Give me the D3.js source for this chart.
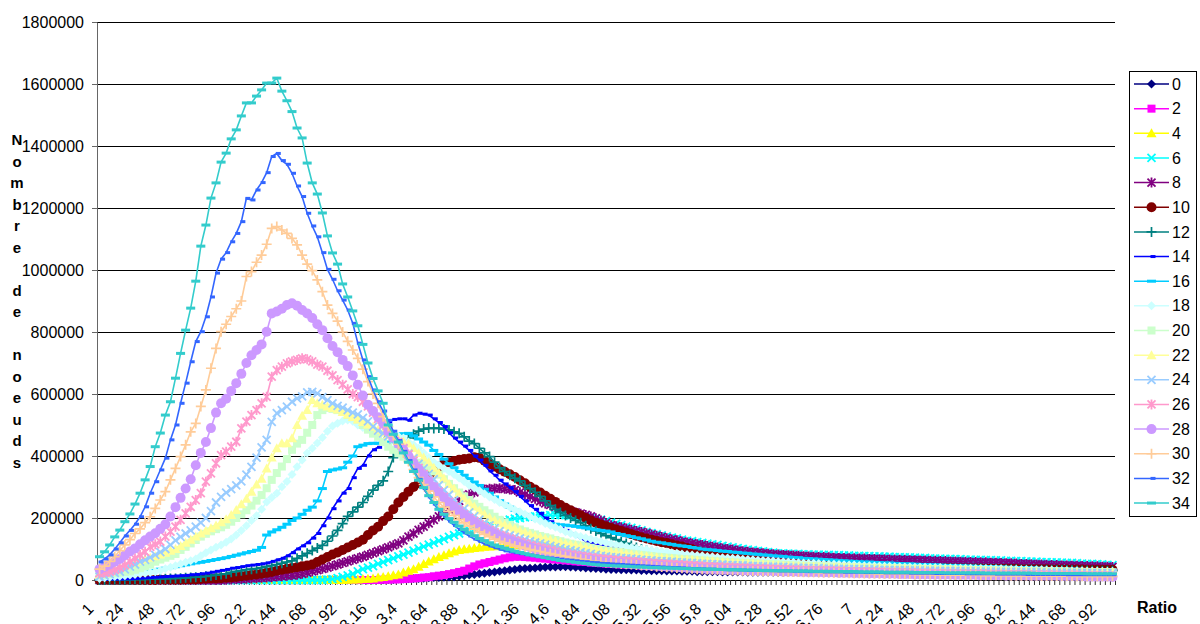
<!DOCTYPE html>
<html>
<head>
<meta charset="utf-8">
<script src="https://d3js.org/d3.v7.min.js"></script>
<style>
  body { margin: 0; background: #fff; }
  svg { display: block; font-family: "Liberation Sans", Arial, sans-serif; }
</style>
</head>
<body>
<script>
// values in thousands of noeuds, one per ratio category (1 ; 1,04 ; ... ; 9), 10 per row
var s0 = [0,0,0,0,0,0,0,0,0,0,
 0,0,0,0,0,0,0,0,0,0,
 0,0,0,0,0,0,0,0,0,0,
 0,0,0,0,0,0,0,0,0,0,
 0,0,0,0,0,0,0,0,0,0,
 0,0,0,0,0,1,1,2,2,3,
 3,4,5,5,6,7,8,8,9,10,
 10,12,14,16,18,20,22,24,26,28,
 30,32,34,36,37,38,39,40,41,42,
 42,43,43,42,41,40,39,38,37,36,
 35,34,34,33,33,32,32,31,31,30,
 30,30,29,29,29,28,28,28,27,27,
 27,27,27,26,26,26,26,26,25,25,
 25,25,25,25,24,24,24,24,24,24,
 24,24,23,23,23,23,23,23,23,23,
 22,22,22,22,22,22,22,22,22,22,
 21,21,21,21,21,21,21,21,21,20,
 20,20,20,20,20,20,20,20,20,20,
 19,19,19,19,19,19,19,19,19,19,
 18,18,18,18,18,18,18,18,18,18,
 18];
var s2 = [0,0,0,0,0,0,0,0,0,0,
 0,0,0,0,0,0,0,0,0,0,
 0,0,0,0,0,0,0,0,0,0,
 0,0,0,0,0,0,0,0,0,0,
 0,0,0,0,0,0,0,0,0,0,
 0,0,0,0,0,0,1,1,2,2,
 3,4,5,6,8,9,12,14,16,19,
 22,26,30,37,44,50,54,58,62,66,
 70,73,75,75,74,73,72,70,69,67,
 66,65,63,62,60,59,58,56,55,54,
 53,52,51,50,50,49,48,47,46,45,
 45,44,44,43,43,42,42,41,41,40,
 40,40,39,39,39,38,38,38,37,37,
 37,36,36,36,36,35,35,35,35,34,
 34,34,34,34,33,33,33,33,33,32,
 32,32,32,32,31,31,31,31,31,30,
 30,30,30,30,29,29,29,29,29,29,
 28,28,28,28,28,28,27,27,27,27,
 27,27,26,26,26,26,26,26,25,25,
 25,25,25,25,25,25,24,24,24,24,
 24];
var s4 = [0,0,0,0,0,0,0,0,0,0,
 0,0,0,0,0,0,0,0,0,0,
 0,0,0,0,0,0,0,0,0,0,
 0,0,0,0,0,0,0,0,0,0,
 0,0,0,0,0,0,0,0,0,1,
 2,2,3,4,5,8,10,12,15,18,
 24,30,35,43,52,60,67,74,80,86,
 92,97,99,101,103,105,107,108,109,110,
 111,112,112,113,113,113,114,114,114,114,
 113,113,113,112,111,110,109,108,107,105,
 104,103,101,100,98,97,96,95,94,92,
 91,90,89,88,86,85,84,83,82,80,
 79,78,77,76,75,74,72,71,70,69,
 68,67,66,65,64,63,62,61,60,60,
 59,58,58,57,56,56,55,54,54,53,
 53,52,52,51,51,50,50,49,49,48,
 48,47,47,47,46,46,45,45,45,44,
 44,44,43,43,43,42,42,42,41,41,
 40,40,40,39,39,39,38,38,38,37,
 37,37,37,36,36,36,36,35,35,35,
 35];
var s6 = [0,0,0,0,0,0,0,0,0,0,
 0,0,0,0,0,0,0,0,0,0,
 0,0,0,0,0,0,0,0,0,0,
 0,0,0,0,0,0,0,0,0,0,
 0,0,0,0,0,1,3,6,10,15,
 20,28,35,40,45,52,58,64,70,76,
 82,88,95,101,108,114,120,126,132,139,
 145,150,156,161,165,170,175,180,185,188,
 192,195,198,200,202,204,205,207,208,209,
 209,210,209,208,206,204,203,201,199,195,
 190,185,181,177,172,168,164,160,155,151,
 148,144,141,137,134,130,127,125,122,120,
 117,115,113,110,108,105,103,100,98,96,
 94,92,90,88,86,86,85,84,84,83,
 83,82,82,81,81,80,80,79,79,78,
 78,77,77,76,76,75,75,74,74,73,
 73,72,71,71,70,69,69,68,68,67,
 67,66,66,65,65,64,64,63,63,62,
 62,61,61,60,59,59,58,58,57,57,
 56,55,55,54,53,52,52,51,50,49,
 48];
var s8 = [0,0,0,0,0,0,0,0,0,0,
 0,0,0,0,0,0,0,0,0,0,
 0,0,0,0,0,1,2,3,3,4,
 5,6,7,8,9,11,12,14,15,17,
 20,24,28,32,36,40,45,50,55,60,
 65,70,75,81,87,93,99,105,112,118,
 128,140,150,162,172,183,194,205,216,226,
 240,255,269,276,283,290,292,294,295,296,
 294,292,290,283,276,269,262,254,247,242,
 236,231,226,222,218,214,210,205,199,192,
 184,177,173,170,166,162,158,155,151,147,
 143,139,135,131,128,124,121,118,115,113,
 110,107,105,102,100,98,95,93,91,89,
 88,86,85,83,82,81,80,79,78,77,
 76,75,74,74,73,72,71,71,70,70,
 69,69,68,68,67,67,66,66,65,65,
 64,64,63,63,62,62,61,61,60,60,
 59,59,58,58,57,57,56,56,55,54,
 54,53,52,52,51,50,50,49,48,48,
 47,47,46,46,45,45,44,44,43,43,
 42];
var s10 = [0,0,0,0,0,0,0,0,0,0,
 0,0,1,1,1,1,1,2,2,2,
 3,4,5,5,6,7,8,10,12,14,
 16,18,20,23,26,30,33,36,39,41,
 44,47,50,58,66,74,82,89,97,105,
 113,121,130,145,160,172,190,205,228,250,
 268,285,300,313,326,337,350,365,376,380,
 384,388,390,392,396,394,385,374,366,357,
 349,341,332,322,312,301,292,282,272,262,
 252,242,233,225,217,209,200,192,185,179,
 173,168,163,158,153,148,143,138,134,130,
 126,122,119,115,111,108,103,99,94,90,
 85,81,79,76,74,72,69,67,65,63,
 61,60,58,56,55,54,53,52,51,50,
 49,48,47,47,46,45,45,44,43,43,
 42,42,41,41,40,40,40,40,39,39,
 39,39,39,38,38,38,38,38,38,37,
 37,37,37,37,37,36,36,36,36,36,
 36,36,35,35,35,35,35,35,34,34,
 34,34,34,34,34,33,33,33,33,33,
 33];
var s12 = [0,0,0,1,1,1,1,2,2,2,
 3,3,4,4,5,5,6,7,8,9,
 10,12,14,16,18,20,25,28,30,33,
 35,37,40,43,46,50,54,58,62,70,
 78,86,95,103,112,125,142,160,182,205,
 220,235,250,270,290,305,320,350,395,420,
 440,458,470,480,487,490,489,490,487,484,
 478,473,462,448,440,425,410,398,380,362,
 350,338,328,320,305,295,283,270,255,240,
 228,218,208,200,192,185,175,165,158,150,
 143,137,130,124,118,111,105,100,95,91,
 88,84,80,77,74,72,70,68,66,64,
 62,61,60,59,58,57,56,56,55,55,
 54,54,53,53,53,52,52,52,51,51,
 50,50,49,49,48,48,47,47,46,46,
 45,45,44,44,43,43,43,42,42,42,
 41,41,41,40,40,40,39,39,39,38,
 38,38,37,37,37,36,36,36,35,35,
 35,35,34,34,34,33,33,33,33,32,
 32,32,32,31,31,31,31,30,30,30,
 30];
var s14 = [2,2,3,3,3,4,4,5,6,7,
 8,9,10,11,12,13,14,15,17,18,
 20,22,25,28,31,34,38,40,43,46,
 48,50,52,55,60,65,70,78,88,100,
 110,120,135,150,175,200,230,255,280,295,
 330,360,370,400,420,428,440,510,518,520,
 520,515,532,538,535,532,520,508,495,475,
 458,445,432,418,400,387,370,352,338,322,
 310,298,285,270,255,240,228,215,200,188,
 178,168,160,150,142,134,126,120,113,110,
 106,103,100,96,93,90,87,84,80,77,
 75,73,71,69,67,66,65,64,63,62,
 61,60,59,59,58,58,57,57,56,56,
 55,55,54,54,53,53,52,52,51,51,
 50,50,49,49,49,48,48,48,47,47,
 46,46,45,45,44,44,43,43,42,42,
 41,41,41,40,40,40,39,39,39,38,
 38,38,37,37,37,36,36,36,35,35,
 35,34,34,34,33,33,33,32,32,32,
 31,31,31,31,30,30,30,30,30,30,
 30];
var s16 = [5,6,8,9,11,13,15,18,21,25,
 28,31,35,38,40,43,46,49,52,55,
 57,60,63,66,69,72,76,80,84,88,
 92,96,105,145,155,162,170,180,192,200,
 212,225,235,255,295,350,355,358,362,380,
 400,430,435,440,441,441,442,445,450,470,
 472,473,465,455,445,435,418,405,390,375,
 362,350,338,327,316,305,293,280,268,256,
 245,235,225,215,210,205,198,193,188,182,
 180,178,177,175,173,170,168,165,162,160,
 158,155,150,147,143,140,136,133,129,125,
 122,120,117,115,112,110,108,105,103,100,
 98,97,95,93,92,90,89,87,86,84,
 83,81,80,78,77,76,74,73,72,70,
 69,68,67,66,65,64,63,62,61,60,
 59,58,58,57,56,55,55,54,53,52,
 52,51,50,50,49,49,48,47,47,46,
 46,45,45,44,44,43,43,42,42,41,
 41,40,40,39,39,38,38,37,37,36,
 36,35,35,35,34,34,33,33,33,32,
 32];
var s18 = [5,7,9,11,12,14,16,18,20,22,
 24,27,31,36,41,46,52,57,62,68,
 78,88,97,106,113,122,132,145,160,175,
 192,207,228,252,266,280,301,318,340,365,
 387,410,425,442,460,480,497,506,513,516,
 512,500,492,487,483,480,476,474,470,464,
 458,445,436,425,410,395,380,370,360,350,
 340,329,318,306,297,288,278,268,260,250,
 243,235,227,220,212,205,197,190,182,176,
 170,164,156,150,145,140,136,132,128,124,
 120,117,114,111,108,105,102,100,98,96,
 94,92,90,88,86,84,82,81,79,78,
 76,75,73,72,71,70,69,67,66,65,
 64,63,62,61,60,59,58,57,56,55,
 54,54,53,52,51,51,50,49,48,48,
 47,46,46,45,45,44,44,43,43,42,
 42,41,41,41,40,40,40,39,39,39,
 38,38,38,37,37,37,36,36,36,35,
 35,35,34,34,33,33,33,32,32,31,
 31,31,30,30,30,29,29,29,28,28,
 28];
var s20 = [15,17,19,22,24,26,28,33,38,44,
 50,59,66,72,78,84,97,107,118,129,
 140,149,157,164,170,178,188,200,212,225,
 240,256,274,296,323,345,366,390,420,440,
 452,475,500,532,548,555,552,548,542,532,
 525,518,500,485,472,462,445,430,420,409,
 398,387,383,378,372,362,350,340,325,310,
 296,282,270,258,246,236,225,215,204,194,
 186,178,170,163,157,152,147,142,138,134,
 129,125,121,117,114,111,108,104,100,97,
 95,93,91,89,87,85,83,81,79,77,
 75,74,72,71,69,68,67,66,64,63,
 62,61,60,59,58,57,56,55,55,54,
 53,52,51,50,50,49,48,47,46,46,
 45,45,44,44,43,43,42,42,41,41,
 40,40,39,39,39,38,38,38,37,37,
 36,36,36,35,35,35,34,34,34,33,
 33,33,32,32,32,31,31,31,30,30,
 30,29,29,29,28,28,28,28,27,27,
 27,27,26,26,26,26,25,25,25,25,
 25];
var s22 = [18,22,28,35,40,45,50,56,62,68,
 72,77,82,88,94,100,110,120,130,140,
 150,159,167,176,186,196,210,226,244,262,
 285,308,327,360,395,425,441,441,457,500,
 530,548,581,570,565,560,555,550,542,534,
 526,518,510,502,494,485,476,468,462,455,
 447,440,425,410,395,380,362,345,328,310,
 295,280,264,250,237,224,212,202,193,185,
 178,172,166,160,154,148,143,138,134,130,
 126,122,118,115,112,108,105,102,99,96,
 93,91,89,87,85,83,81,79,77,75,
 73,72,70,69,68,67,66,65,64,63,
 62,61,60,59,58,57,56,55,54,53,
 52,51,50,49,48,47,46,46,45,45,
 44,44,43,43,42,42,41,41,40,40,
 39,39,38,38,38,37,37,37,36,36,
 35,35,35,34,34,34,33,33,33,32,
 32,32,31,31,31,30,30,30,29,29,
 29,28,28,28,27,27,27,26,26,26,
 26,25,25,25,25,24,24,24,24,24,
 24];
var s24 = [11,14,19,23,27,34,43,50,59,65,
 73,81,90,100,113,128,139,150,160,172,
 185,200,222,250,268,282,293,305,318,340,
 365,395,428,452,510,538,548,559,575,586,
 592,605,607,602,590,580,570,562,556,548,
 540,534,523,512,495,482,473,463,452,440,
 425,408,392,375,360,342,325,306,290,275,
 258,244,230,218,206,195,185,176,167,158,
 150,144,139,134,130,125,121,118,114,110,
 106,103,99,96,93,90,87,84,81,78,
 76,74,73,71,70,69,67,66,64,63,
 62,61,60,59,58,57,56,55,54,53,
 52,51,50,50,49,48,47,47,46,45,
 45,44,43,43,42,42,41,40,40,39,
 39,38,38,37,37,37,36,36,35,35,
 35,34,34,34,33,33,33,32,32,32,
 31,31,31,30,30,30,29,29,29,29,
 28,28,28,28,27,27,27,27,26,26,
 26,26,25,25,25,25,25,24,24,24,
 24,24,23,23,23,23,23,22,22,22,
 22];
var s26 = [22,24,27,33,40,48,59,70,81,91,
 107,115,124,140,156,172,194,215,236,258,
 280,317,344,376,403,414,430,446,489,511,
 532,548,570,591,656,677,688,699,705,710,
 715,712,705,695,688,675,660,645,630,615,
 600,590,575,560,540,520,500,480,460,445,
 425,405,385,362,342,320,300,285,268,252,
 238,225,212,200,190,180,171,162,154,145,
 140,134,128,123,118,112,108,104,100,96,
 92,88,85,82,80,77,75,72,70,68,
 67,65,64,62,61,60,58,57,55,54,
 53,52,51,50,49,48,47,46,45,44,
 43,42,42,41,40,40,39,38,38,37,
 36,36,35,35,34,34,33,33,32,31,
 31,30,30,30,29,29,28,28,27,27,
 26,26,26,25,25,25,24,24,24,23,
 23,23,22,22,22,21,21,21,20,20,
 20,20,19,19,19,19,18,18,18,18,
 17,17,17,17,16,16,16,16,16,15,
 15,15,15,15,14,14,14,14,14,13,
 13];
var s28 = [35,42,50,59,68,80,92,102,115,128,
 140,151,165,180,205,235,265,295,325,370,
 410,445,490,540,570,585,610,635,665,700,
 725,742,760,801,860,866,875,887,893,885,
 871,860,845,825,806,780,755,735,710,690,
 660,630,595,565,545,525,505,480,460,440,
 420,400,378,358,338,318,300,282,266,250,
 236,222,210,198,186,176,165,157,149,141,
 134,128,122,116,111,106,100,96,92,88,
 84,81,78,75,72,70,67,65,62,60,
 58,57,55,54,52,51,50,48,47,46,
 45,44,43,42,41,40,39,38,37,36,
 35,35,34,33,33,32,32,31,31,30,
 30,29,29,28,28,27,27,27,26,26,
 25,25,25,24,24,24,23,23,23,22,
 22,22,21,21,21,20,20,20,19,19,
 19,18,18,18,18,17,17,17,17,16,
 16,16,16,16,15,15,15,15,15,14,
 14,14,14,14,13,13,13,13,13,13,
 12,12,12,12,12,11,11,11,11,11,
 10];
var s30 = [35,45,60,75,95,113,130,150,165,185,
 204,231,258,285,323,360,398,436,478,505,
 560,613,683,747,801,825,850,875,900,979,
 995,1025,1048,1083,1134,1140,1129,1118,1102,1081,
 1048,1019,998,968,930,887,860,835,800,770,
 742,715,680,640,600,570,527,495,465,438,
 410,382,356,330,308,287,268,250,235,221,
 208,195,184,174,164,155,147,140,132,125,
 120,115,110,106,102,98,95,92,88,85,
 82,79,76,73,70,67,65,62,60,58,
 56,55,53,52,51,50,48,47,46,45,
 43,42,41,40,39,38,37,36,35,34,
 34,33,33,32,32,31,31,30,30,29,
 29,28,28,28,27,27,26,26,26,25,
 25,25,24,24,24,23,23,23,22,22,
 22,21,21,21,20,20,20,20,19,19,
 19,18,18,18,18,17,17,17,17,16,
 16,16,16,16,15,15,15,15,15,15,
 14,14,14,14,14,14,13,13,13,13,
 13,13,13,12,12,12,12,12,12,12,
 12];
var s32 = [58,68,81,100,120,142,160,180,204,236,
 280,317,355,393,452,500,570,635,704,769,
 801,849,913,990,1035,1056,1091,1118,1156,1231,
 1226,1258,1282,1314,1366,1376,1353,1341,1312,1271,
 1237,1183,1142,1107,1056,1002,970,933,903,871,
 828,764,710,656,613,575,545,515,480,450,
 415,385,355,325,295,268,245,225,206,190,
 176,163,152,142,132,124,116,110,104,99,
 94,91,88,85,82,80,77,75,73,71,
 69,67,65,64,62,60,59,57,56,54,
 53,52,51,50,49,48,47,46,45,44,
 43,42,41,40,40,39,38,37,37,36,
 35,35,34,34,33,33,32,32,31,31,
 31,30,30,30,29,29,29,28,28,28,
 27,27,27,26,26,26,26,25,25,25,
 25,24,24,24,24,23,23,23,23,23,
 22,22,22,22,22,21,21,21,21,21,
 21,20,20,20,20,20,20,19,19,19,
 19,19,19,18,18,18,18,18,18,18,
 18,17,17,17,17,17,17,17,17,17,
 17];
var s34 = [75,91,113,139,161,188,213,245,280,323,
 366,430,474,532,575,651,731,806,877,964,
 1077,1145,1232,1281,1348,1377,1423,1452,1497,1539,
 1539,1561,1581,1603,1603,1619,1577,1546,1511,1458,
 1426,1345,1281,1245,1184,1110,1055,1019,955,913,
 868,820,760,700,650,610,570,500,470,445,
 410,380,350,322,298,272,250,228,212,198,
 186,174,163,152,143,134,127,120,113,108,
 103,98,93,89,85,81,78,75,72,69,
 66,63,61,59,57,55,53,51,49,48,
 47,46,45,45,44,43,42,42,41,40,
 40,39,39,38,38,37,37,36,36,35,
 35,35,34,34,33,33,33,32,32,32,
 31,31,31,30,30,30,30,29,29,29,
 29,28,28,28,28,27,27,27,27,27,
 26,26,26,26,26,25,25,25,25,25,
 25,24,24,24,24,24,24,23,23,23,
 23,23,23,23,23,22,22,22,22,22,
 22,22,22,22,22,21,21,21,21,21,
 21,21,21,21,21,20,20,20,20,20,
 20];

var seriesValues = [s0, s2, s4, s6, s8, s10, s12, s14, s16, s18, s20, s22, s24, s26, s28, s30, s32, s34];
var seriesNames = ["0","2","4","6","8","10","12","14","16","18","20","22","24","26","28","30","32","34"];
var seriesColors = ["#000080","#FF00FF","#FFFF00","#00FFFF","#800080","#800000","#008080","#0000FF","#00CCFF",
                    "#CCFFFF","#CCFFCC","#FFFF99","#99CCFF","#FF99CC","#CC99FF","#FFCC99","#3366FF","#33CCCC"];
var seriesMarkers = ["diamond","square","triangle","x","star","circle","plus","dot","dash",
                     "diamond","square","triangle","x","star","circle","plus","dot","dash"];
var yTicks = [0,200000,400000,600000,800000,1000000,1200000,1400000,1600000,1800000];
var xTickLabels = ["1","1,24","1,48","1,72","1,96","2,2","2,44","2,68","2,92","3,16","3,4","3,64",
                   "3,88","4,12","4,36","4,6","4,84","5,08","5,32","5,56","5,8","6,04","6,28","6,52",
                   "6,76","7","7,24","7,48","7,72","7,96","8,2","8,44","8,68","8,92"];
var nCat = 201;
var yTitle = ["N","o","m","b","r","e","","d","e","","n","o","e","u","d","s"];

var width = 1200, height = 624;
var plotLeft = 97, plotRight = 1115, plotTop = 22, plotBottom = 580;

var svg = d3.select("body").append("svg")
    .attr("width", width)
    .attr("height", height);

var x = d3.scaleBand().domain(d3.range(nCat)).range([plotLeft, plotRight]);
var xEdge = d3.scaleLinear().domain([0, nCat]).range([plotLeft, plotRight]);
var y = d3.scaleLinear().domain([0, 1800000]).range([plotBottom, plotTop]);
var cx = function(i) { return x(i) + x.bandwidth() / 2; };

// gridlines
svg.append("g")
    .attr("transform", "translate(" + plotLeft + ",0)")
    .call(d3.axisLeft(y).tickValues(yTicks).tickSize(-(plotRight - plotLeft)).tickFormat(""))
    .call(function(g) { g.select(".domain").remove(); })
    .selectAll("line").attr("stroke", "#000");

// y axis
var yAxis = svg.append("g")
    .attr("transform", "translate(" + plotLeft + ",0)")
    .call(d3.axisLeft(y).tickValues(yTicks).tickSize(5).tickSizeOuter(0).tickPadding(8).tickFormat(d3.format("d")));
yAxis.attr("font-family", null).attr("font-size", 16);
yAxis.select(".domain").attr("stroke", "#666");
yAxis.selectAll("line").attr("stroke", "#666");
yAxis.selectAll("text").attr("fill", "#000");

// x axis ticks between categories
var xAxis = svg.append("g")
    .attr("transform", "translate(0," + plotBottom + ")")
    .call(d3.axisBottom(xEdge).tickValues(d3.range(nCat + 1)).tickSize(5).tickSizeOuter(0).tickFormat(""));
xAxis.select(".domain").attr("stroke", "#000");
xAxis.selectAll("line").attr("stroke", "#333");

// x labels every 6 categories
var labelIdx = xTickLabels.map(function(d, k) { return k * 6; });
var xLab = svg.append("g")
    .attr("transform", "translate(0," + plotBottom + ")")
    .call(d3.axisBottom(x).tickValues(labelIdx).tickSize(0).tickFormat(function(d) { return xTickLabels[d / 6]; }));
xLab.select(".domain").remove();
xLab.attr("font-family", null).attr("font-size", 16);
xLab.selectAll("text")
    .attr("x", 0).attr("y", 0).attr("dy", "0.35em")
    .attr("fill", "#000")
    .attr("transform", "translate(-9,26) rotate(-45)")
    .style("text-anchor", "end");

// marker shapes
function drawMarker(g, type, color) {
    if (type == "circle") {
        g.append("circle").attr("r", 5).attr("fill", color);
    } else if (type == "diamond") {
        g.append("path").attr("d", "M0,-4.5L4.5,0L0,4.5L-4.5,0Z").attr("fill", color);
    } else if (type == "square") {
        g.append("rect").attr("x", -4).attr("y", -4).attr("width", 8).attr("height", 8).attr("fill", color);
    } else if (type == "triangle") {
        g.append("path").attr("d", "M0,-5L5,4L-5,4Z").attr("fill", color);
    } else if (type == "x") {
        g.append("path").attr("d", "M-4,-4L4,4M-4,4L4,-4").attr("stroke", color).attr("stroke-width", 1.8);
    } else if (type == "star") {
        g.append("path").attr("d", "M-4,-4L4,4M-4,4L4,-4M0,-5V5").attr("stroke", color).attr("stroke-width", 1.8);
    } else if (type == "plus") {
        g.append("path").attr("d", "M-5,0H5M0,-5V5").attr("stroke", color).attr("stroke-width", 1.7);
    } else if (type == "dot") {
        g.append("rect").attr("x", -1).attr("y", -1.5).attr("width", 5).attr("height", 3).attr("fill", color);
    } else if (type == "dash") {
        g.append("rect").attr("x", -4.5).attr("y", -1.5).attr("width", 9).attr("height", 3).attr("fill", color);
    }
}

var line = d3.line()
    .x(function(d, i) { return cx(i); })
    .y(function(d) { return y(d * 1000); });

seriesValues.forEach(function(vals, s) {
    var g = svg.append("g").attr("class", "series");
    g.append("path")
        .attr("d", line(vals))
        .attr("fill", "none")
        .attr("stroke", seriesColors[s])
        .attr("stroke-width", 1.6);
    g.selectAll("g.m")
        .data(vals)
        .enter()
        .append("g")
        .attr("class", "m")
        .attr("transform", function(d, i) { return "translate(" + cx(i) + "," + y(d * 1000) + ")"; })
        .each(function() { drawMarker(d3.select(this), seriesMarkers[s], seriesColors[s]); });
});

// y title, one letter per line
svg.append("g")
    .selectAll("text")
    .data(yTitle)
    .enter()
    .append("text")
    .attr("x", 17)
    .attr("y", function(d, k) { return 140 + k * 21.5; })
    .attr("dy", "0.35em")
    .attr("text-anchor", "middle")
    .attr("font-size", 15)
    .attr("font-weight", "bold")
    .text(function(d) { return d; });

svg.append("text")
    .attr("x", 1157).attr("y", 607).attr("dy", "0.35em")
    .attr("text-anchor", "middle")
    .attr("font-size", 16).attr("font-weight", "bold")
    .text("Ratio");

// legend
var legend = svg.append("g").attr("id", "legend");
legend.append("rect")
    .attr("x", 1129.5).attr("y", 71.5).attr("width", 67).attr("height", 445)
    .attr("fill", "#fff").attr("stroke", "#000");
seriesNames.forEach(function(name, s) {
    var ly = 84 + s * 24.65;
    legend.append("line")
        .attr("x1", 1134).attr("x2", 1169).attr("y1", ly).attr("y2", ly)
        .attr("stroke", seriesColors[s]).attr("stroke-width", 1.5);
    drawMarker(legend.append("g").attr("transform", "translate(1151.5," + ly + ")"), seriesMarkers[s], seriesColors[s]);
    legend.append("text")
        .attr("x", 1172).attr("y", ly).attr("dy", "0.35em")
        .attr("font-size", 16)
        .text(name);
});
</script>
</body>
</html>
